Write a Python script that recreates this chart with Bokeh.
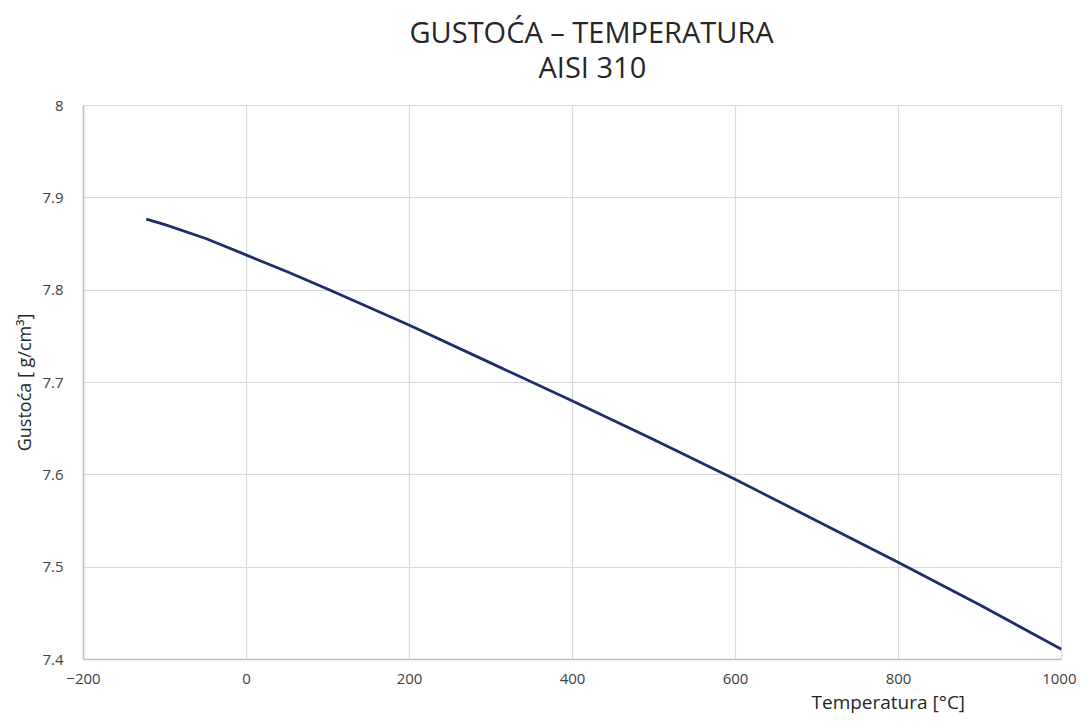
from bokeh.plotting import figure
from bokeh.models import FixedTicker, Title, ColumnDataSource
from bokeh.embed import file_html
from bokeh.resources import INLINE

# Data
temperature = [-123, -100, -50, 0, 50, 100, 200, 300, 400, 500, 600, 700, 800, 900, 1000]
density = [7.877, 7.871, 7.856, 7.838, 7.820, 7.801, 7.762, 7.721, 7.680, 7.638, 7.595, 7.550, 7.505, 7.459, 7.411]

x_ticks = [-200, 0, 200, 400, 600, 800, 1000]
y_ticks = [7.4, 7.5, 7.6, 7.7, 7.8, 7.9, 8.0]
y_tick_labels = ["7.4", "7.5", "7.6", "7.7", "7.8", "7.9", "8"]

title_line1 = "GUSTOĆA – TEMPERATURA"
title_line2 = "AISI 310"
x_label = "Temperatura [°C]"
y_label = "Gustoća [ g/cm³]"

FONT = "Open Sans"

p = figure(width=1076, height=714, output_backend="svg", toolbar_location=None,
           x_range=(-200, 1000), y_range=(7.4, 8.0),
           min_border_left=83, min_border_right=15, min_border_top=105, min_border_bottom=0)

src = ColumnDataSource(dict(x=temperature, y=density))
p.line("x", "y", source=src, line_color="#1c2f6b", line_width=2.8)

for ax in (p.xaxis[0], p.yaxis[0]):
    ax.major_tick_line_color = None
    ax.minor_tick_line_color = None
    ax.axis_line_color = "#bfbfbf"
    ax.axis_line_width = 1.5
    ax.major_label_text_font = FONT
    ax.major_label_text_font_size = "15px"
    ax.major_label_text_color = "#404040"

p.xaxis.ticker = FixedTicker(ticks=x_ticks)
p.yaxis.ticker = FixedTicker(ticks=y_ticks)
p.yaxis.major_label_overrides = {t: l for t, l in zip(y_ticks, y_tick_labels)}
p.xaxis.major_label_standoff = 8
p.yaxis.major_label_standoff = 14

p.yaxis.axis_label = y_label
p.yaxis.axis_label_text_font = FONT
p.yaxis.axis_label_text_font_size = "18px"
p.yaxis.axis_label_text_font_style = "normal"
p.yaxis.axis_label_text_color = "#262626"
p.yaxis.axis_label_standoff = 3

p.xgrid.ticker = FixedTicker(ticks=x_ticks)
p.ygrid.ticker = FixedTicker(ticks=y_ticks)
p.grid.grid_line_color = "#d9d9d9"
p.grid.grid_line_width = 1.2
p.outline_line_color = "#d9d9d9"
p.outline_line_width = 1.2

# Two-line title (added above; last added sits on top)
t2 = Title(text=title_line2, align="left", offset=455, text_font=FONT,
           text_font_size="29px", text_font_style="normal", text_color="#262626",
           standoff=40)
t1 = Title(text=title_line1, align="left", offset=326, text_font=FONT,
           text_font_size="29px", text_font_style="normal", text_color="#262626",
           standoff=-52)
p.add_layout(t2, "above")
p.add_layout(t1, "above")

# x-axis title placed below, offset to sit under the 800 tick
tx = Title(text=x_label, align="left", offset=728, text_font=FONT,
           text_font_size="19px", text_font_style="normal", text_color="#262626",
           standoff=0)
p.add_layout(tx, "below")

open("out.html", "w").write(file_html(p, INLINE))
